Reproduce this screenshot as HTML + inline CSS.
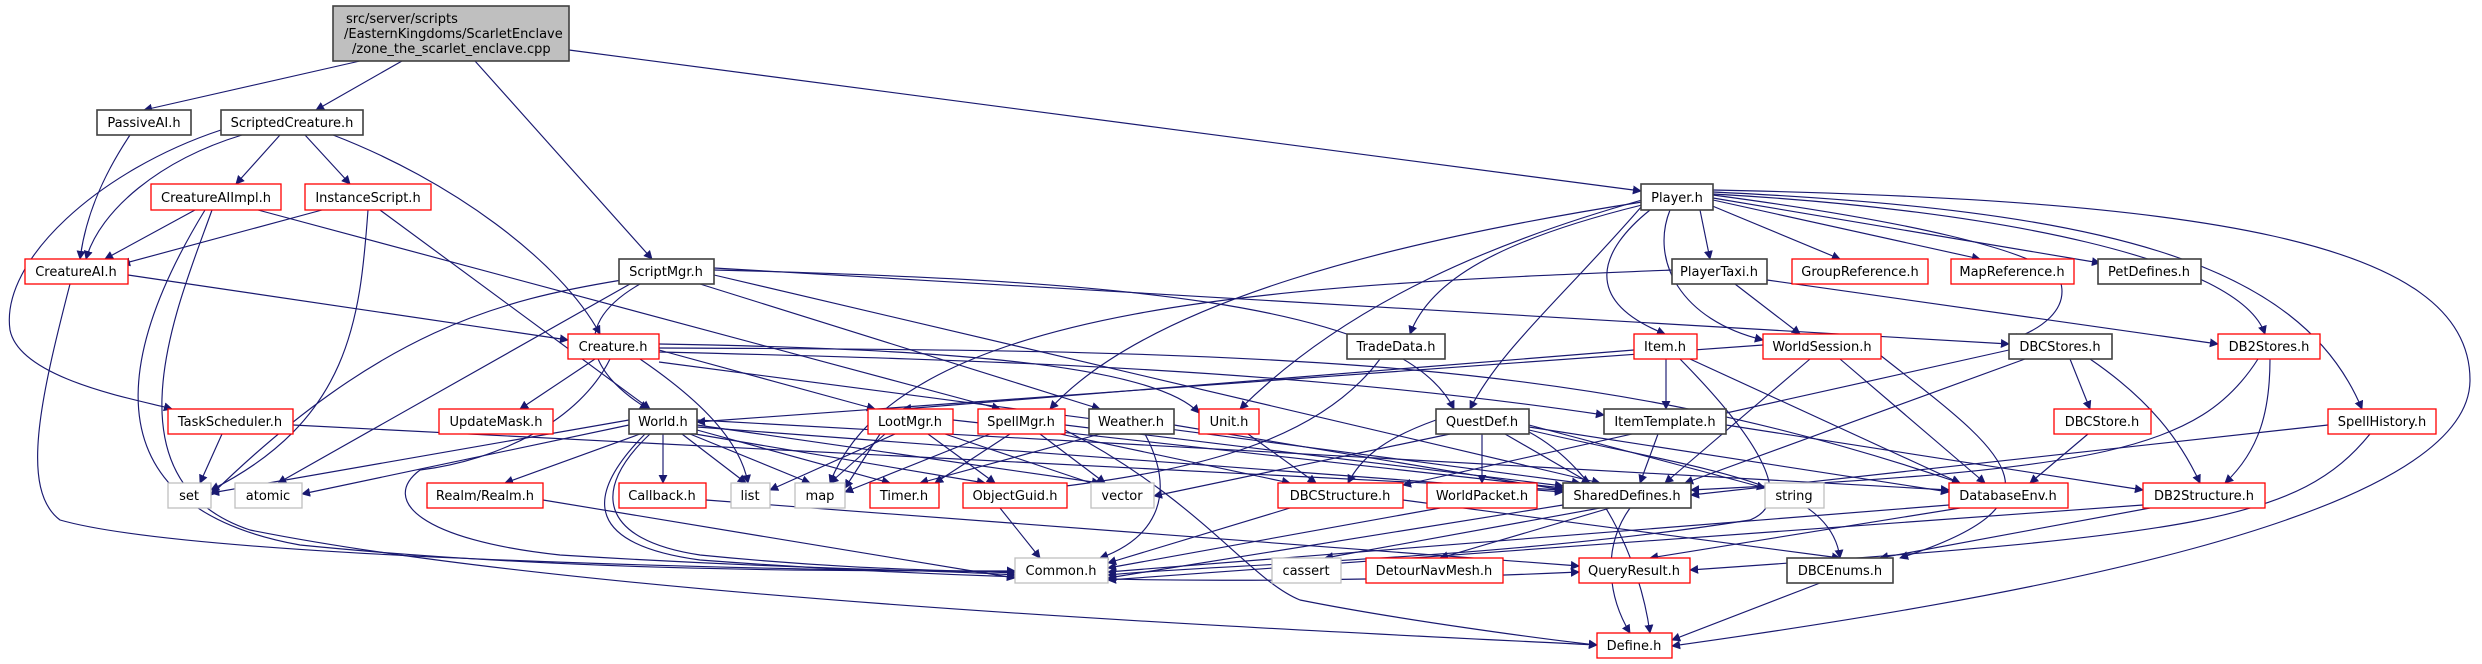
<!DOCTYPE html>
<html><head><meta charset="utf-8"><style>
html,body{margin:0;padding:0;background:#fff;width:2482px;height:664px;overflow:hidden}
svg{display:block}
text{font-family:"DejaVu Sans","Liberation Sans",sans-serif;font-size:13px;fill:#000;text-anchor:middle}
.e{fill:none;stroke:#191970;stroke-width:1.15}
.b{fill:#fff;stroke:#404040;stroke-width:1.6}
.r{fill:#fff;stroke:#ff0000;stroke-width:1.3}
.g{fill:#fff;stroke:#bfbfbf;stroke-width:1.3}
</style></head><body>
<svg width="2482" height="664" viewBox="0 0 2482 664" xmlns="http://www.w3.org/2000/svg">
<defs><marker id="a" viewBox="0 0 10 10" refX="9" refY="5" markerWidth="9" markerHeight="9" orient="auto" markerUnits="userSpaceOnUse"><path d="M0,0 L10,5 L0,10 z" fill="#191970"/></marker></defs>
<g class="e" marker-end="url(#a)">
<path d="M360,61 L144,110"/>
<path d="M402,61 L316,110"/>
<path d="M475,61 L652,259"/>
<path d="M569,50 L1641,191"/>
<path d="M130,135 C100,180 85,220 80,259"/>
<path d="M280,135 L236,184"/>
<path d="M305,135 L350,184"/>
<path d="M242,135 C160,160 100,210 86,259"/>
<path d="M221,130 C100,170 0,260 10,330 C20,380 140,400 172,409"/>
<path d="M333,135 C450,180 560,260 600,334"/>
<path d="M195,210 L105,259"/>
<path d="M322,210 L122,264"/>
<path d="M258,210 L1000,409"/>
<path d="M205,210 C150,300 50,500 300,545 C600,575 900,570 1015,571"/>
<path d="M212,210 C180,300 100,480 250,530 C600,600 1300,630 1597,645"/>
<path d="M368,210 C360,320 350,420 211,490"/>
<path d="M380,210 L650,409"/>
<path d="M128,275 L568,340"/>
<path d="M70,284 C40,400 20,490 60,520 C200,560 800,570 1015,572"/>
<path d="M640,284 C560,330 600,380 648,409"/>
<path d="M622,280 C500,300 380,330 211,495"/>
<path d="M630,284 L278,483"/>
<path d="M714,270 C1100,280 1400,300 1454,409"/>
<path d="M714,268 L2009,344"/>
<path d="M700,284 L1100,409"/>
<path d="M714,275 L1600,483"/>
<path d="M595,359 L520,409"/>
<path d="M610,359 C580,420 500,460 420,470 C380,500 420,540 560,555 C800,570 950,570 1015,575"/>
<path d="M640,359 C700,400 740,440 748,483"/>
<path d="M659,350 L875,409"/>
<path d="M659,352 C1000,360 1300,370 1604,415"/>
<path d="M659,362 L1580,483"/>
<path d="M659,348 C1300,350 1600,360 1960,483"/>
<path d="M659,344 C900,348 1150,360 1199,413"/>
<path d="M629,420 L211,493"/>
<path d="M629,425 L302,494"/>
<path d="M640,434 L505,483"/>
<path d="M663,434 L663,483"/>
<path d="M682,434 L746,483"/>
<path d="M690,434 L810,483"/>
<path d="M697,427 L1563,492"/>
<path d="M697,420 L1949,490"/>
<path d="M697,430 L890,483"/>
<path d="M695,434 L985,483"/>
<path d="M697,425 L1100,483"/>
<path d="M650,434 C590,490 600,540 700,555 C850,570 950,570 1015,573"/>
<path d="M645,434 C580,500 590,545 700,560 C1100,590 1400,580 1579,572"/>
<path d="M222,434 L200,483"/>
<path d="M293,425 L1563,490"/>
<path d="M885,434 L830,483"/>
<path d="M895,434 L770,490"/>
<path d="M928,434 L995,483"/>
<path d="M945,434 L1100,486"/>
<path d="M953,420 L1563,488"/>
<path d="M880,434 L845,488"/>
<path d="M990,434 L845,492"/>
<path d="M1040,434 L1105,483"/>
<path d="M1010,434 L935,483"/>
<path d="M1060,434 L1290,483"/>
<path d="M1065,425 L1563,486"/>
<path d="M1065,430 C1200,500 1250,580 1300,600 C1400,620 1550,640 1597,645"/>
<path d="M1100,434 L920,483"/>
<path d="M1174,425 L1563,490"/>
<path d="M1145,434 C1180,500 1150,540 1100,558"/>
<path d="M1248,434 L1316,483"/>
<path d="M1380,359 C1320,440 1200,470 1050,488"/>
<path d="M1450,434 L1154,496"/>
<path d="M1482,434 L1482,483"/>
<path d="M1505,434 L1590,483"/>
<path d="M1529,425 L1765,488"/>
<path d="M1529,427 L1949,492"/>
<path d="M1529,430 C1700,470 1830,480 1840,558"/>
<path d="M1529,432 C1600,470 1640,560 1650,633"/>
<path d="M1436,420 C1380,440 1360,460 1348,483"/>
<path d="M1658,434 L1640,483"/>
<path d="M1726,425 L2143,490"/>
<path d="M1666,359 L1666,409"/>
<path d="M1634,350 L903,409"/>
<path d="M1690,359 L1960,483"/>
<path d="M1680,359 C1750,430 1800,500 1750,520 C1500,560 1200,565 1108,575"/>
<path d="M1810,359 L1665,483"/>
<path d="M1840,359 L1985,483"/>
<path d="M1880,355 C2000,450 2080,500 1900,558"/>
<path d="M1763,345 L697,422"/>
<path d="M2025,359 L1685,483"/>
<path d="M2070,359 L2090,409"/>
<path d="M2090,359 C2150,400 2180,440 2200,483"/>
<path d="M2009,350 L1403,485"/>
<path d="M2258,359 C2200,450 2100,470 1691,490"/>
<path d="M2270,359 C2270,410 2260,450 2225,483"/>
<path d="M2088,434 L2030,483"/>
<path d="M2328,425 L1691,495"/>
<path d="M2370,434 C2300,520 2200,535 1690,570"/>
<path d="M1700,210 L1710,259"/>
<path d="M1710,205 L1840,259"/>
<path d="M1713,200 L1980,259"/>
<path d="M1713,198 L2100,263"/>
<path d="M1642,205 C1500,240 1430,280 1410,334"/>
<path d="M1650,210 C1600,250 1580,300 1665,334"/>
<path d="M1670,210 C1650,260 1680,320 1763,340"/>
<path d="M1713,195 C1900,220 2040,250 2060,280 C2070,310 2040,330 2010,340"/>
<path d="M1713,194 C2000,210 2240,260 2265,334"/>
<path d="M1713,192 C2100,210 2300,260 2362,409"/>
<path d="M1642,200 C1500,240 1350,300 1240,409"/>
<path d="M1642,202 C1400,240 1150,300 1050,409"/>
<path d="M1642,206 C1560,300 1500,350 1470,409"/>
<path d="M1713,190 C2200,200 2470,240 2470,380 C2470,520 2000,600 1672,646"/>
<path d="M1735,284 L1800,334"/>
<path d="M1767,280 L2218,344"/>
<path d="M1672,270 C1300,285 900,300 830,483"/>
<path d="M1000,508 L1040,558"/>
<path d="M1290,508 L1108,563"/>
<path d="M1403,500 L1840,558"/>
<path d="M1440,508 L1108,568"/>
<path d="M1600,508 L1325,558"/>
<path d="M1610,508 L1440,558"/>
<path d="M1630,508 C1600,550 1610,600 1630,633"/>
<path d="M1563,505 L1108,578"/>
<path d="M1960,508 L1650,558"/>
<path d="M1949,505 L1108,572"/>
<path d="M2150,508 L1880,558"/>
<path d="M2143,505 L1108,580"/>
<path d="M543,500 L1015,578"/>
<path d="M706,500 L1579,566"/>
<path d="M1820,583 L1672,640"/>
</g>
<rect x="333" y="6" width="236" height="55" fill="#bfbfbf" stroke="#404040" stroke-width="1.6"/>
<text x="346" y="23" style="text-anchor:start">src/server/scripts</text>
<text x="344" y="38" style="text-anchor:start">/EasternKingdoms/ScarletEnclave</text>
<text x="352" y="53" style="text-anchor:start">/zone_the_scarlet_enclave.cpp</text>
<g>
<rect class="b" x="97" y="110" width="94" height="25"/><text x="144" y="127">PassiveAI.h</text>
<rect class="b" x="221" y="110" width="142" height="25"/><text x="292" y="127">ScriptedCreature.h</text>
<rect class="r" x="151" y="184" width="130" height="26"/><text x="216" y="202">CreatureAIImpl.h</text>
<rect class="r" x="305" y="184" width="126" height="26"/><text x="368" y="202">InstanceScript.h</text>
<rect class="r" x="25" y="259" width="103" height="25"/><text x="76" y="276">CreatureAI.h</text>
<rect class="b" x="619" y="259" width="95" height="25"/><text x="666" y="276">ScriptMgr.h</text>
<rect class="b" x="1641" y="184" width="72" height="26"/><text x="1677" y="202">Player.h</text>
<rect class="b" x="1672" y="259" width="95" height="25"/><text x="1719" y="276">PlayerTaxi.h</text>
<rect class="r" x="1792" y="259" width="136" height="25"/><text x="1860" y="276">GroupReference.h</text>
<rect class="r" x="1951" y="259" width="123" height="25"/><text x="2012" y="276">MapReference.h</text>
<rect class="b" x="2098" y="259" width="103" height="25"/><text x="2149" y="276">PetDefines.h</text>
<rect class="r" x="568" y="334" width="91" height="25"/><text x="613" y="351">Creature.h</text>
<rect class="b" x="1347" y="334" width="98" height="25"/><text x="1396" y="351">TradeData.h</text>
<rect class="r" x="1634" y="334" width="63" height="25"/><text x="1665" y="351">Item.h</text>
<rect class="r" x="1763" y="334" width="118" height="25"/><text x="1822" y="351">WorldSession.h</text>
<rect class="b" x="2009" y="334" width="103" height="25"/><text x="2060" y="351">DBCStores.h</text>
<rect class="r" x="2218" y="334" width="102" height="25"/><text x="2269" y="351">DB2Stores.h</text>
<rect class="r" x="168" y="409" width="125" height="25"/><text x="230" y="426">TaskScheduler.h</text>
<rect class="r" x="439" y="409" width="114" height="25"/><text x="496" y="426">UpdateMask.h</text>
<rect class="b" x="629" y="409" width="68" height="25"/><text x="663" y="426">World.h</text>
<rect class="r" x="868" y="409" width="85" height="25"/><text x="910" y="426">LootMgr.h</text>
<rect class="r" x="978" y="409" width="87" height="25"/><text x="1021" y="426">SpellMgr.h</text>
<rect class="b" x="1089" y="409" width="85" height="25"/><text x="1131" y="426">Weather.h</text>
<rect class="r" x="1199" y="409" width="60" height="25"/><text x="1229" y="426">Unit.h</text>
<rect class="b" x="1436" y="409" width="93" height="25"/><text x="1482" y="426">QuestDef.h</text>
<rect class="b" x="1604" y="409" width="122" height="25"/><text x="1665" y="426">ItemTemplate.h</text>
<rect class="r" x="2054" y="409" width="97" height="25"/><text x="2102" y="426">DBCStore.h</text>
<rect class="r" x="2328" y="409" width="108" height="25"/><text x="2382" y="426">SpellHistory.h</text>
<rect class="g" x="168" y="483" width="43" height="25"/><text x="189" y="500">set</text>
<rect class="g" x="235" y="483" width="67" height="25"/><text x="268" y="500">atomic</text>
<rect class="r" x="427" y="483" width="116" height="25"/><text x="485" y="500">Realm/Realm.h</text>
<rect class="r" x="619" y="483" width="87" height="25"/><text x="662" y="500">Callback.h</text>
<rect class="g" x="731" y="483" width="39" height="25"/><text x="750" y="500">list</text>
<rect class="g" x="795" y="483" width="50" height="25"/><text x="820" y="500">map</text>
<rect class="r" x="870" y="483" width="69" height="25"/><text x="904" y="500">Timer.h</text>
<rect class="r" x="963" y="483" width="104" height="25"/><text x="1015" y="500">ObjectGuid.h</text>
<rect class="g" x="1091" y="483" width="63" height="25"/><text x="1122" y="500">vector</text>
<rect class="r" x="1278" y="483" width="125" height="25"/><text x="1340" y="500">DBCStructure.h</text>
<rect class="r" x="1427" y="483" width="110" height="25"/><text x="1482" y="500">WorldPacket.h</text>
<rect class="b" x="1563" y="483" width="128" height="25"/><text x="1627" y="500">SharedDefines.h</text>
<rect class="g" x="1765" y="483" width="59" height="25"/><text x="1794" y="500">string</text>
<rect class="r" x="1949" y="483" width="119" height="25"/><text x="2008" y="500">DatabaseEnv.h</text>
<rect class="r" x="2143" y="483" width="122" height="25"/><text x="2204" y="500">DB2Structure.h</text>
<rect class="g" x="1015" y="558" width="93" height="25"/><text x="1061" y="575">Common.h</text>
<rect class="g" x="1272" y="558" width="69" height="25"/><text x="1306" y="575">cassert</text>
<rect class="r" x="1366" y="558" width="137" height="25"/><text x="1434" y="575">DetourNavMesh.h</text>
<rect class="r" x="1579" y="558" width="111" height="25"/><text x="1634" y="575">QueryResult.h</text>
<rect class="b" x="1787" y="558" width="106" height="25"/><text x="1840" y="575">DBCEnums.h</text>
<rect class="r" x="1597" y="633" width="75" height="25"/><text x="1634" y="650">Define.h</text>
</g>
</svg>
</body></html>
